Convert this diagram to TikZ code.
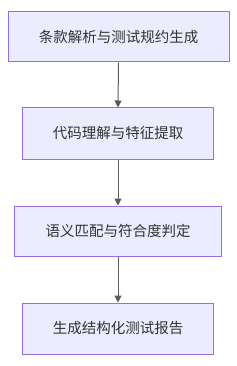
\documentclass[tikz,border=0pt]{standalone}
\usepackage{fontspec}
\newfontfamily\cjk{Noto Sans CJK SC}
\usetikzlibrary{arrows.meta}
\definecolor{boxfill}{HTML}{ECECFF}
\definecolor{boxdraw}{HTML}{9370DB}
\definecolor{txt}{HTML}{333333}
\begin{document}
\begin{tikzpicture}[x=1pt,y=-1pt,
  stepbox/.style={draw=boxdraw,fill=boxfill,line width=1pt,text=txt,font=\cjk\fontsize{14.5}{16}\selectfont,inner sep=0pt},
  conn/.style={draw=txt!80,line width=1pt,-{Triangle[length=7pt,width=7pt]}}]
\useasboundingbox (0,0) rectangle (236,366);
\node[stepbox,minimum width=221pt,minimum height=50pt] (a) at (118.5,37) {条款解析与测试规约生成};
\node[stepbox,minimum width=191pt,minimum height=51pt] (b) at (118,133.5) {代码理解与特征提取};
\node[stepbox,minimum width=206.5pt,minimum height=50pt] (c) at (118,231) {语义匹配与符合度判定};
\node[stepbox,minimum width=191pt,minimum height=51pt] (d) at (118,328.5) {生成结构化测试报告};
\draw[conn] (a.south) -- (b.north);
\draw[conn] (b.south) -- (c.north);
\draw[conn] (c.south) -- (d.north);
\end{tikzpicture}
\end{document}
